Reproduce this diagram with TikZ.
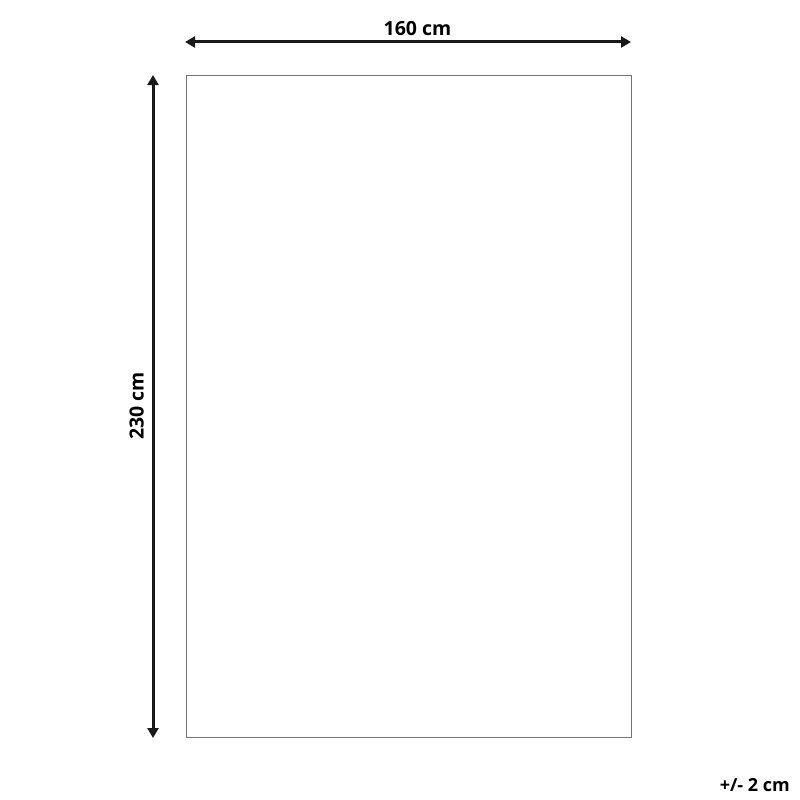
\documentclass[tikz,border=0pt]{standalone}
\usepackage{fontspec}
\setmainfont{Open Sans}
\usepackage{tikz}
\usetikzlibrary{arrows.meta,positioning,calc}

\begin{document}
\begin{tikzpicture}[x = 1pt, y = -1pt]
    \useasboundingbox (0,0) rectangle (800,800);
    \node[draw = black!55, line width = 1pt, minimum width = 445pt, minimum height = 662pt, inner sep = 0pt] (rug) at (408.5,406) {};
    \coordinate (wl) at (185,42);
    \coordinate (wr) at (631,42);
    \coordinate (ht) at (153,75);
    \coordinate (hb) at (153,738);
    \draw[{Triangle[length=10pt,width=11pt]}-{Triangle[length=10pt,width=11pt]}, line width = 3pt, black!90] (wl) -- (wr);
    \draw[{Triangle[length=10pt,width=11pt]}-{Triangle[length=10pt,width=11pt]}, line width = 3pt, black!90] (ht) -- (hb);
    \node[anchor = base, font = \bfseries\fontsize{19.5}{22}\selectfont, inner sep = 0pt] (width) at (417.5,35.5) {160 cm};
    \node[anchor = base, rotate = 90, font = \bfseries\fontsize{19.5}{22}\selectfont, inner sep = 0pt] (height) at (143.5,406) {230 cm};
    \node[anchor = base east, font = \bfseries\fontsize{18}{20}\selectfont, inner sep = 0pt] (tol) at (790,791) {+/- 2 cm};
\end{tikzpicture}
\end{document}
